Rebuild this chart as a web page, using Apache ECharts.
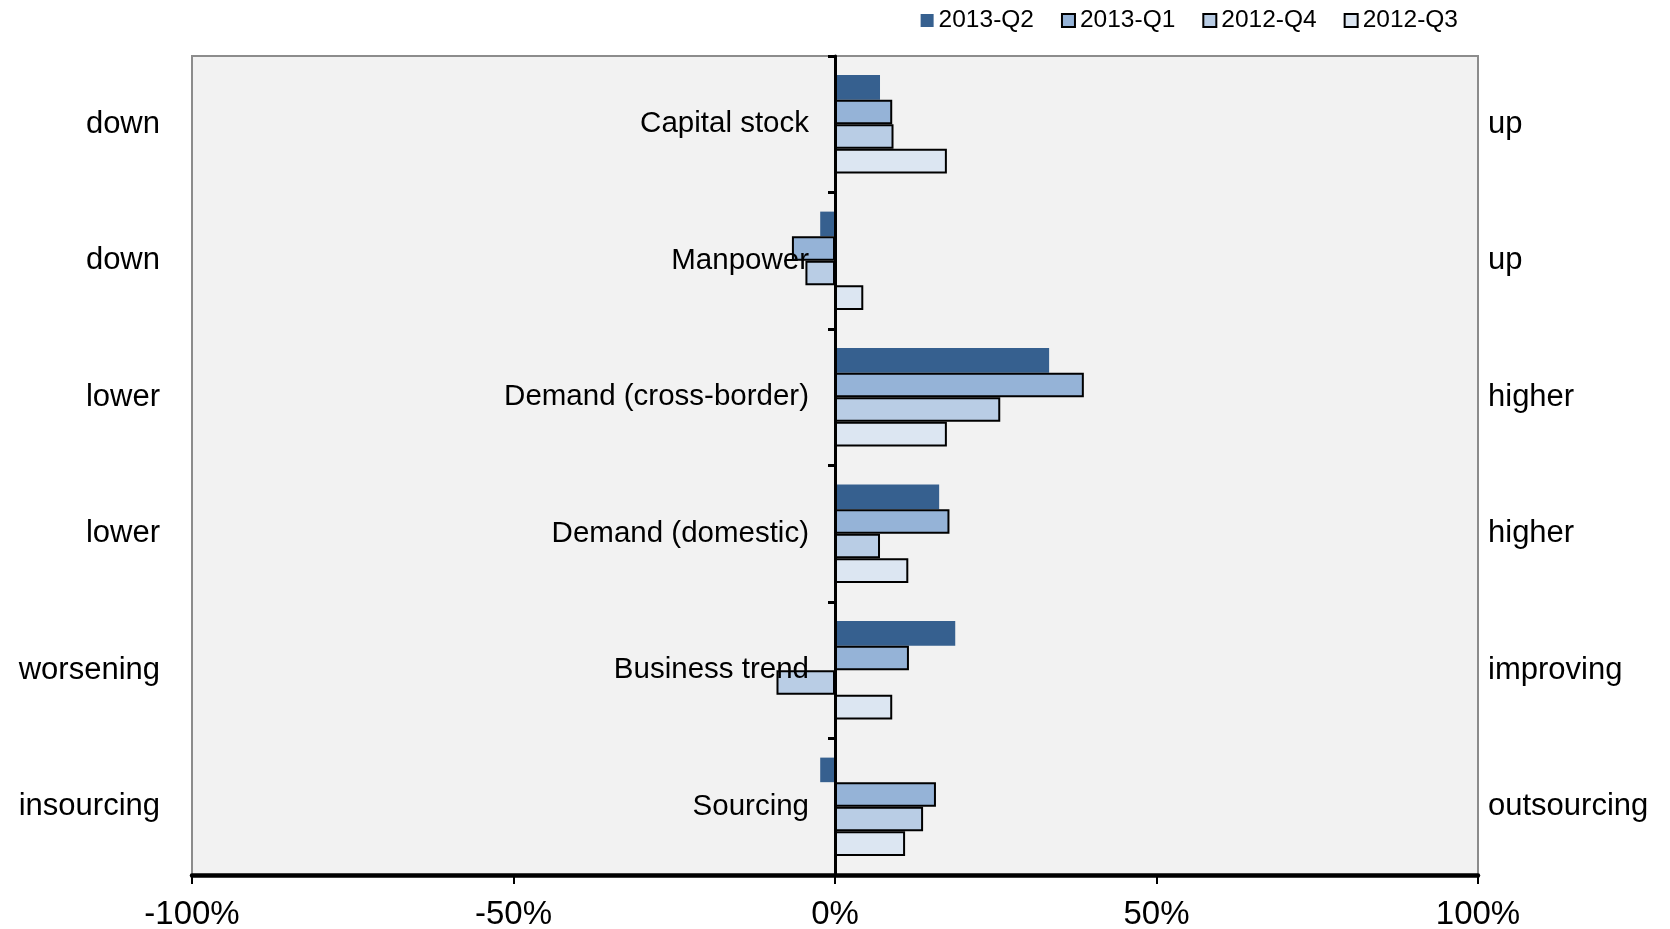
<!DOCTYPE html>
<html>
<head>
<meta charset="utf-8">
<script src="https://cdn.jsdelivr.net/npm/echarts@6/dist/echarts.min.js"></script>
<style>
html,body{margin:0;padding:0;background:#fff;}
#chart{width:1670px;height:929px;}
</style>
</head>
<body>
<div id="chart"></div>
<script>
var categories = ['Capital stock', 'Manpower', 'Demand (cross-border)', 'Demand (domestic)', 'Business trend', 'Sourcing'];
var leftLabels = ['down', 'down', 'lower', 'lower', 'worsening', 'insourcing'];
var rightLabels = ['up', 'up', 'higher', 'higher', 'improving', 'outsourcing'];
var seriesNames = ['2013-Q2', '2013-Q1', '2012-Q4', '2012-Q3'];
var q2_2013 = [7.0, -2.3, 33.3, 16.2, 18.7, -2.3];
var q1_2013 = [8.9, -6.7, 38.7, 17.8, 11.5, 15.7];
var q4_2012 = [9.1, -4.6, 25.7, 7.0, -9.1, 13.7];
var q3_2012 = [17.4, 4.4, 17.4, 11.4, 8.9, 10.9];
var xTicks = {min: -100, max: 100, interval: 50};

var colors = ['#36608f', '#95b3d7', '#b9cde5', '#dce6f2'];
var values = [q2_2013, q1_2013, q4_2012, q3_2012];
var font = 'Liberation Sans, Arial, sans-serif';

var gridLeft = 192, gridRight = 192, chartW = 1670;
var plotW = chartW - gridLeft - gridRight;
var zeroOffset = -plotW * (0 - xTicks.min) / (xTicks.max - xTicks.min);

var series = seriesNames.map(function (n, i) {
  return {
    name: n,
    type: 'bar',
    yAxisIndex: 0,
    data: values[i],
    barGap: '0%',
    barCategoryGap: '28%',
    itemStyle: {
      color: colors[i],
      borderColor: i === 0 ? 'transparent' : '#000',
      borderWidth: i === 0 ? 0 : 2
    },
    z: 2
  };
});

var chart = echarts.init(document.getElementById('chart'));
chart.setOption({
  animation: false,
  textStyle: {fontFamily: font, color: '#000'},
  legend: {
    data: seriesNames,
    right: 207,
    top: 3,
    itemWidth: 13,
    itemHeight: 13,
    itemGap: 27,
    icon: 'rect',
    textStyle: {fontFamily: font, fontSize: 24.5, color: '#000'}
  },
  grid: {
    left: gridLeft, right: gridRight, top: 56, bottom: 54,
    containLabel: false,
    outerBoundsMode: 'none',
    show: true,
    backgroundColor: '#f2f2f2',
    borderColor: '#8c8c8c',
    borderWidth: 2
  },
  xAxis: {
    type: 'value',
    min: xTicks.min, max: xTicks.max, interval: xTicks.interval,
    axisLine: {show: true, onZero: false, lineStyle: {color: '#000', width: 4.5}},
    axisTick: {show: true, length: 9, lineStyle: {color: '#000', width: 2}},
    splitLine: {show: false},
    axisLabel: {formatter: '{value}%', fontSize: 33, color: '#000', margin: 23, fontFamily: font}
  },
  yAxis: [
    {
      type: 'category',
      data: categories,
      inverse: true,
      position: 'left',
      offset: zeroOffset,
      z: 5,
      axisLine: {show: true, onZero: false, lineStyle: {color: '#000', width: 3}},
      axisTick: {show: true, length: 7, lineStyle: {color: '#000', width: 3}},
      axisLabel: {fontSize: 29.5, color: '#000', margin: 26, fontFamily: font, padding: [8, 0, 0, 0]}
    },
    {
      type: 'category',
      data: leftLabels,
      inverse: true,
      position: 'left',
      axisLine: {show: false, onZero: false},
      axisTick: {show: false},
      axisLabel: {fontSize: 31, color: '#000', margin: 32, fontFamily: font, padding: [0, 0, 3, 0]}
    },
    {
      type: 'category',
      data: rightLabels,
      inverse: true,
      position: 'right',
      axisLine: {show: false, onZero: false},
      axisTick: {show: false},
      axisLabel: {fontSize: 31, color: '#000', margin: 10, fontFamily: font, padding: [0, 0, 3, 0]}
    }
  ],
  series: series
});
</script>
</body>
</html>
